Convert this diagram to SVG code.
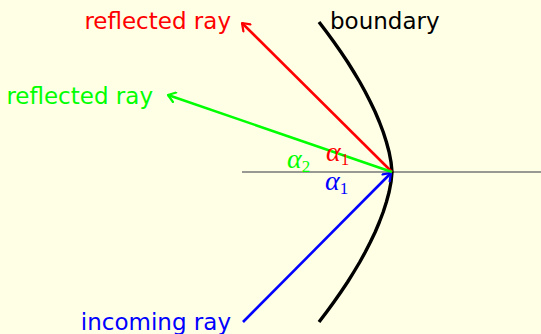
<svg xmlns="http://www.w3.org/2000/svg" width="541" height="334" viewBox="0 0 541 334">
<defs>
<style>
.lbl{font-family:"DejaVu Sans",sans-serif;font-size:23px}
.m{font-family:"Liberation Serif",serif;font-style:italic;font-size:28px}
.s{font-family:"Liberation Serif",serif;font-size:17px}
.ray{stroke-width:2.6;fill:none}
</style>
<marker id="ahR" viewBox="-10 -6 12 12" markerWidth="12" markerHeight="12" refX="0" refY="0" orient="auto" markerUnits="userSpaceOnUse">
<path d="M-7,-5 L0,0 L-7,5" fill="none" stroke="#ff0000" stroke-width="2.2" stroke-linecap="round" stroke-linejoin="round"/>
</marker>
<marker id="ahG" viewBox="-10 -6 12 12" markerWidth="12" markerHeight="12" refX="0" refY="0" orient="auto" markerUnits="userSpaceOnUse">
<path d="M-7,-5 L0,0 L-7,5" fill="none" stroke="#00ff00" stroke-width="2.2" stroke-linecap="round" stroke-linejoin="round"/>
</marker>
<marker id="ahB" viewBox="-10 -6 12 12" markerWidth="12" markerHeight="12" refX="0" refY="0" orient="auto" markerUnits="userSpaceOnUse">
<path d="M-7,-5 L0,0 L-7,5" fill="none" stroke="#0000ff" stroke-width="2.2" stroke-linecap="round" stroke-linejoin="round"/>
</marker>
</defs>
<rect width="541" height="334" fill="#ffffe6"/>
<g id="axis"><line x1="242" y1="172" x2="541" y2="172" stroke="#777777" stroke-width="1.5"/></g>
<g id="boundary">
<path d="M319,22 L326.6,32 L333.9,42 L340.9,52 L347.6,62 L353.8,72 L359.8,82 L365.3,92 L370.4,102 L375.2,112 L379.4,122 L383.2,132 L386.4,142 L389.1,152 L391,162 L392,172 L391,182 L389.1,192 L386.4,202 L383.2,212 L379.4,222 L375.2,232 L370.4,242 L365.3,252 L359.8,262 L353.8,272 L347.6,282 L340.9,292 L333.9,302 L326.6,312 L319,322" fill="none" stroke="#000" stroke-width="3.4" stroke-linejoin="round"/>
<text class="lbl" x="330" y="29" fill="#000">boundary</text>
</g>
<g id="connectors">
<line class="ray" x1="243" y1="322" x2="391" y2="173" stroke="#0000ff" marker-end="url(#ahB)"/>
<line class="ray" x1="392" y1="172" x2="242" y2="23" stroke="#ff0000" marker-end="url(#ahR)"/>
<line class="ray" x1="392" y1="172" x2="168" y2="95" stroke="#00ff00" marker-end="url(#ahG)"/>
</g>
<g id="incoming"><text class="lbl" x="231" y="330" text-anchor="end" fill="#0000ff">incoming ray</text></g>
<g id="reflected-red"><text class="lbl" x="231" y="29" text-anchor="end" fill="#ff0000">reflected ray</text></g>
<g id="reflected-green"><text class="lbl" x="153" y="104" text-anchor="end" fill="#00ff00">reflected ray</text></g>
<g id="alpha-red"><text x="326" y="161" fill="#ff0000"><tspan class="m">α</tspan><tspan class="s" dy="4">1</tspan></text></g>
<g id="alpha-green"><text x="287" y="168" fill="#00ff00"><tspan class="m">α</tspan><tspan class="s" dy="4">2</tspan></text></g>
<g id="alpha-blue"><text x="325" y="190" fill="#0000ff"><tspan class="m">α</tspan><tspan class="s" dy="4">1</tspan></text></g>
</svg>
